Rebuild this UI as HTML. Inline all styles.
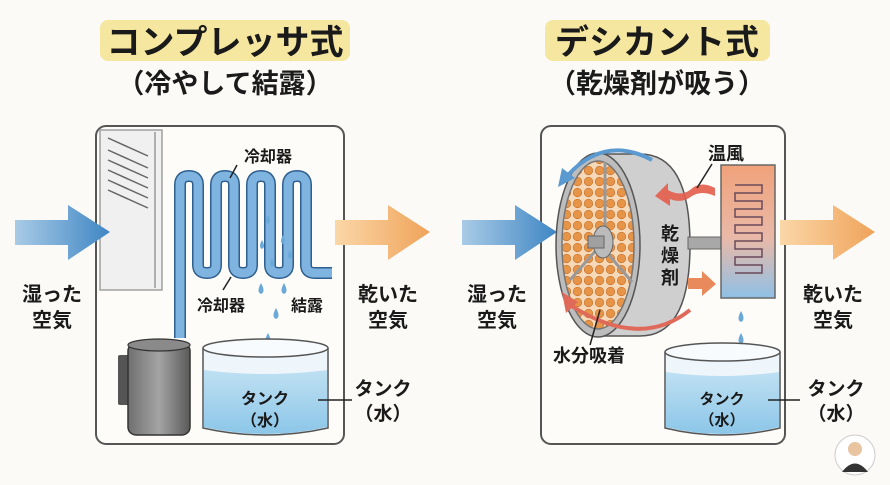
<!DOCTYPE html>
<html><head><meta charset="utf-8"><style>
html,body{margin:0;padding:0;background:#fbfaf6;}
svg{display:block}
text{font-family:"Liberation Sans","Noto Sans CJK JP",sans-serif;font-weight:bold;fill:#1a1a1a}
</style></head><body>
<svg width="890" height="485" viewBox="0 0 890 485" xmlns="http://www.w3.org/2000/svg">
<defs>
<linearGradient id="blueA" x1="0" x2="1"><stop offset="0" stop-color="#a9cbe6"/><stop offset="1" stop-color="#3f86c4"/></linearGradient>
<linearGradient id="orA" x1="0" x2="1"><stop offset="0" stop-color="#fbd7a8"/><stop offset="1" stop-color="#efa35a"/></linearGradient>
<linearGradient id="hx" x1="0" y1="0" x2="0" y2="1"><stop offset="0" stop-color="#f0a27a"/><stop offset="0.55" stop-color="#e9b9a8"/><stop offset="1" stop-color="#8fc0e6"/></linearGradient>
<linearGradient id="water" x1="0" y1="0" x2="0" y2="1"><stop offset="0" stop-color="#bfe0f2"/><stop offset="1" stop-color="#8cc6e8"/></linearGradient>
<linearGradient id="comp" x1="0" x2="1"><stop offset="0" stop-color="#6f6f6f"/><stop offset="0.5" stop-color="#a4a4a4"/><stop offset="1" stop-color="#5a5a5a"/></linearGradient>
<pattern id="beads" width="11" height="11" patternUnits="userSpaceOnUse"><rect width="11" height="11" fill="#f6d9b8"/><circle cx="5.5" cy="5.5" r="4.3" fill="#e59448" stroke="#c8702a" stroke-width="0.6"/></pattern>
</defs>

<rect x="100" y="20" width="250" height="41" rx="8" fill="#f6e7a0"/>
<text x="225" y="54" font-size="34" text-anchor="middle">コンプレッサ式</text>
<text x="225" y="93" font-size="27" text-anchor="middle">（冷やして結露）</text>
<rect x="545" y="20" width="225" height="41" rx="8" fill="#f6e7a0"/>
<text x="657" y="54" font-size="34" text-anchor="middle">デシカント式</text>
<text x="657" y="93" font-size="27" text-anchor="middle">（乾燥剤が吸う）</text>

<!-- LEFT BOX -->
<rect x="96" y="126" width="248" height="318" rx="10" fill="#fdfcf9" stroke="#555" stroke-width="2"/>
<rect x="100" y="130" width="62" height="160" fill="#f0f0f0" stroke="#a0a0a0" stroke-width="1.5"/>
<line x1="155" y1="132" x2="155" y2="288" stroke="#999" stroke-width="1.5"/>
<g stroke="#666" stroke-width="1.5">
<line x1="108" y1="138" x2="148" y2="156"/><line x1="108" y1="150" x2="148" y2="168"/><line x1="108" y1="160" x2="148" y2="178"/><line x1="108" y1="170" x2="148" y2="188"/><line x1="108" y1="180" x2="148" y2="198"/><line x1="108" y1="190" x2="148" y2="208"/>
</g>
<g fill="none" stroke-linejoin="round">
<path id="coil" d="M180 338 L180 185 Q180 176 189 176 Q198 176 198 185 L198 265 Q198 273 207 273 Q216 273 216 265 L216 185 Q216 176 225 176 Q234 176 234 185 L234 265 Q234 273 243 273 Q252 273 252 265 L252 185 Q252 176 261 176 Q270 176 270 185 L270 265 Q270 273 279 273 Q288 273 288 265 L288 185 Q288 176 297 176 Q306 176 306 185 L306 265 Q306 273 315 273 L332 273" stroke="#2f5f8e" stroke-width="12"/>
<path d="M180 338 L180 185 Q180 176 189 176 Q198 176 198 185 L198 265 Q198 273 207 273 Q216 273 216 265 L216 185 Q216 176 225 176 Q234 176 234 185 L234 265 Q234 273 243 273 Q252 273 252 265 L252 185 Q252 176 261 176 Q270 176 270 185 L270 265 Q270 273 279 273 Q288 273 288 265 L288 185 Q288 176 297 176 Q306 176 306 185 L306 265 Q306 273 315 273 L332 273" stroke="#7fb4e0" stroke-width="9"/>
</g>
<g fill="#6aa9d8">
<path d="M268 215 q-4 7 0 9 q4 -2 0 -9z"/><path d="M283 235 q-4 7 0 9 q4 -2 0 -9z"/><path d="M262 240 q-4 7 0 9 q4 -2 0 -9z"/><path d="M272 258 q-4 7 0 9 q4 -2 0 -9z"/><path d="M290 250 q-4 7 0 9 q4 -2 0 -9z"/>
<path d="M261 283 q-5 9 0 11 q5 -2 0 -11z"/><path d="M284 283 q-5 9 0 11 q5 -2 0 -11z"/><path d="M276 308 q-5 9 0 11 q5 -2 0 -11z"/><path d="M268 333 q-5 9 0 11 q5 -2 0 -11z"/>
</g>
<line x1="237" y1="165" x2="230" y2="178" stroke="#222" stroke-width="1.5"/>
<text x="244" y="162" font-size="16">冷却器</text>
<line x1="231" y1="277" x2="223" y2="290" stroke="#222" stroke-width="1.5"/>
<text x="197" y="311" font-size="16">冷却器</text>
<text x="291" y="311" font-size="16">結露</text>
<rect x="118" y="355" width="12" height="50" rx="2" fill="#555"/>
<rect x="128" y="343" width="62" height="92" rx="8" fill="url(#comp)" stroke="#333" stroke-width="1.5"/>
<ellipse cx="159" cy="345" rx="31" ry="6" fill="#8a8a8a" stroke="#333" stroke-width="1.2"/>
<path d="M203 348 L203 428 Q265 442 328 428 L328 348" fill="#eef6fb" stroke="#555" stroke-width="1.5"/>
<path d="M204 370 Q265 378 327 370 L327 427 Q265 441 204 427Z" fill="url(#water)"/>
<ellipse cx="265.5" cy="348" rx="62.5" ry="9" fill="#f7fbfd" stroke="#555" stroke-width="1.5"/>
<text x="265" y="404" font-size="16" text-anchor="middle">タンク</text>
<text x="265" y="426" font-size="16" text-anchor="middle">（水）</text>
<line x1="318" y1="400" x2="352" y2="400" stroke="#222" stroke-width="1.5"/>
<text x="383" y="395" font-size="19" text-anchor="middle">タンク</text>
<text x="383" y="420" font-size="19" text-anchor="middle">（水）</text>

<path d="M15 220 L68 220 L68 205 L110 232 L68 260 L68 245 L15 245Z" fill="url(#blueA)"/>
<path d="M335 220 L388 220 L388 205 L430 232 L388 260 L388 245 L335 245Z" fill="url(#orA)"/>
<text x="52" y="301" font-size="20" text-anchor="middle">湿った</text>
<text x="52" y="327" font-size="20" text-anchor="middle">空気</text>
<text x="388" y="301" font-size="20" text-anchor="middle">乾いた</text>
<text x="388" y="327" font-size="20" text-anchor="middle">空気</text>

<!-- RIGHT BOX -->
<rect x="541" y="126" width="244" height="318" rx="10" fill="#fdfcf9" stroke="#555" stroke-width="2"/>
<path d="M462 220 L515 220 L515 205 L557 232 L515 260 L515 245 L462 245Z" fill="url(#blueA)"/>
<path d="M780 220 L833 220 L833 205 L875 232 L833 260 L833 245 L780 245Z" fill="url(#orA)"/>
<text x="497" y="301" font-size="20" text-anchor="middle">湿った</text>
<text x="497" y="327" font-size="20" text-anchor="middle">空気</text>
<text x="833" y="301" font-size="20" text-anchor="middle">乾いた</text>
<text x="833" y="327" font-size="20" text-anchor="middle">空気</text>

<path d="M596 154 L640 154 Q690 154 690 245 Q690 336 640 336 L596 336Z" fill="#cfcfcf" stroke="#555" stroke-width="1.5"/>
<rect x="688" y="237" width="34" height="12" fill="#a8a8a8" stroke="#666"/>
<ellipse cx="598" cy="245" rx="42" ry="92" fill="#bdbdbd" stroke="#555" stroke-width="1.5"/>
<ellipse cx="598" cy="245" rx="36" ry="84" fill="url(#beads)" stroke="#777" stroke-width="1.5"/>
<g stroke="#999" stroke-width="3"><line x1="605" y1="162" x2="605" y2="240"/><line x1="598" y1="248" x2="570" y2="280"/><line x1="603" y1="248" x2="632" y2="282"/></g>
<ellipse cx="603" cy="242" rx="10" ry="16" fill="#bbb" stroke="#666"/>
<rect x="588" y="236" width="16" height="12" fill="#a0a0a0" stroke="#666"/>
<path d="M652 160 Q605 135 568 175" fill="none" stroke="#5b9ad0" stroke-width="4"/>
<path d="M558 187 L562 168 L575 178Z" fill="#5b9ad0"/>
<path d="M690 310 Q640 350 570 305" fill="none" stroke="#e06a5a" stroke-width="4"/>
<path d="M562 292 L566 313 L578 302Z" fill="#e06a5a"/>
<rect x="721" y="165" width="54" height="133" fill="url(#hx)" stroke="#666" stroke-width="1.5"/>
<path d="M735 185 L762 185 L762 193 L735 193 L735 201 L762 201 L762 209 L735 209 L735 217 L762 217 L762 225 L735 225 L735 233 L762 233 L762 241 L735 241 L735 249 L762 249 L762 257 L735 257 L735 265 L762 265 L762 273 L735 273" fill="none" stroke="#6a4a5a" stroke-width="1.5"/>
<path d="M715 188 Q700 180 690 190 Q680 197 668 190 L668 183 L655 196 L670 206 L670 199 Q682 204 692 196 Q702 190 715 196Z" fill="#e35d4a" opacity="0.9"/>
<path d="M688 278 L702 278 L702 271 L716 284 L702 296 L702 289 L688 289Z" fill="#e88a5c"/>
<line x1="712" y1="164" x2="697" y2="188" stroke="#222" stroke-width="1.5"/>
<text x="708" y="160" font-size="18">温風</text>
<text x="670" y="240" font-size="18" text-anchor="middle">乾</text>
<text x="670" y="262" font-size="18" text-anchor="middle">燥</text>
<text x="670" y="284" font-size="18" text-anchor="middle">剤</text>
<line x1="600" y1="310" x2="590" y2="345" stroke="#222" stroke-width="1.5"/>
<text x="553" y="362" font-size="18">水分吸着</text>
<g fill="#6aa9d8"><path d="M741 311 q-5 9 0 11 q5 -2 0 -11z"/><path d="M741 333 q-5 9 0 11 q5 -2 0 -11z"/></g>
<path d="M665 352 L665 428 Q722 442 780 428 L780 352" fill="#eef6fb" stroke="#555" stroke-width="1.5"/>
<path d="M666 372 Q722 380 779 372 L779 427 Q722 441 666 427Z" fill="url(#water)"/>
<ellipse cx="722.5" cy="352" rx="57.5" ry="9" fill="#f7fbfd" stroke="#555" stroke-width="1.5"/>
<text x="722" y="404" font-size="15" text-anchor="middle">タンク</text>
<text x="722" y="425" font-size="15" text-anchor="middle">（水）</text>
<line x1="768" y1="400" x2="800" y2="400" stroke="#222" stroke-width="1.5"/>
<text x="836" y="395" font-size="19" text-anchor="middle">タンク</text>
<text x="836" y="420" font-size="19" text-anchor="middle">（水）</text>

<circle cx="855" cy="455" r="20" fill="#fff" stroke="#ccc"/>
<circle cx="855" cy="449" r="7" fill="#e8c4a0"/>
<path d="M842 472 Q855 455 868 472Z" fill="#333"/>
</svg>
</body></html>
